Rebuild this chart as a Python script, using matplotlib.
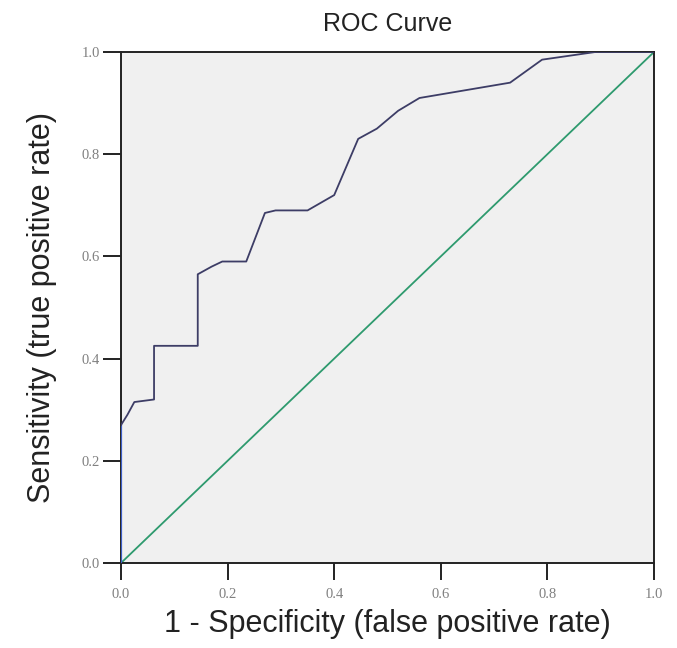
import matplotlib
matplotlib.use("Agg")
import matplotlib.pyplot as plt

fpr = [0.0, 0.0, 0.012, 0.025, 0.062, 0.062, 0.144, 0.144, 0.17, 0.19, 0.235,
       0.27, 0.29, 0.35, 0.40, 0.445, 0.48, 0.52, 0.56, 0.73, 0.79, 0.89, 1.0]
tpr = [0.0, 0.27, 0.29, 0.315, 0.32, 0.425, 0.425, 0.565, 0.58, 0.59, 0.59,
       0.685, 0.69, 0.69, 0.72, 0.83, 0.85, 0.885, 0.91, 0.94, 0.985, 1.0, 1.0]
ref_line = [0.0, 1.0]
ticks = [0.0, 0.2, 0.4, 0.6, 0.8, 1.0]
tick_labels = ["0.0", "0.2", "0.4", "0.6", "0.8", "1.0"]

W, H = 677, 648
fig = plt.figure(figsize=(W / 100, H / 100), dpi=100)
fig.patch.set_facecolor("white")
left, right, top, bottom = 121, 654, 52, 563
ax = fig.add_axes([left / W, 1 - bottom / H, (right - left) / W, (bottom - top) / H])
ax.set_facecolor("#f0f0f0")

ax.plot(ref_line, ref_line, color="#2e9a6e", lw=1.3, zorder=2)
ax.plot(fpr[:2], tpr[:2], color="#3c5fc8", lw=1.6, zorder=3)
ax.plot(fpr[1:], tpr[1:], color="#3d3d66", lw=1.3, zorder=3)

ax.set_xlim(0, 1)
ax.set_ylim(0, 1)
ax.set_xticks(ticks)
ax.set_yticks(ticks)
ax.set_xticklabels(tick_labels, family="Liberation Serif", fontsize=10.5, color="#808080")
ax.set_yticklabels(tick_labels, family="Liberation Serif", fontsize=10.5, color="#808080")
ax.tick_params(axis="x", direction="out", length=12, width=1.4, color="#222222", pad=6)
ax.tick_params(axis="y", direction="out", length=13, width=1.4, color="#222222", pad=2)
for s in ax.spines.values():
    s.set_color("#222222")
    s.set_linewidth(1.4)

ax.set_title("ROC Curve", family="Liberation Sans", fontsize=18, color="#222222", pad=15)
ax.set_xlabel("1 - Specificity (false positive rate)", family="Liberation Sans",
              fontsize=22, color="#222222", labelpad=6)
ax.set_ylabel("Sensitivity (true positive rate)", family="Liberation Sans",
              fontsize=22, color="#222222", labelpad=18)

fig.savefig("out.png", dpi=100)
